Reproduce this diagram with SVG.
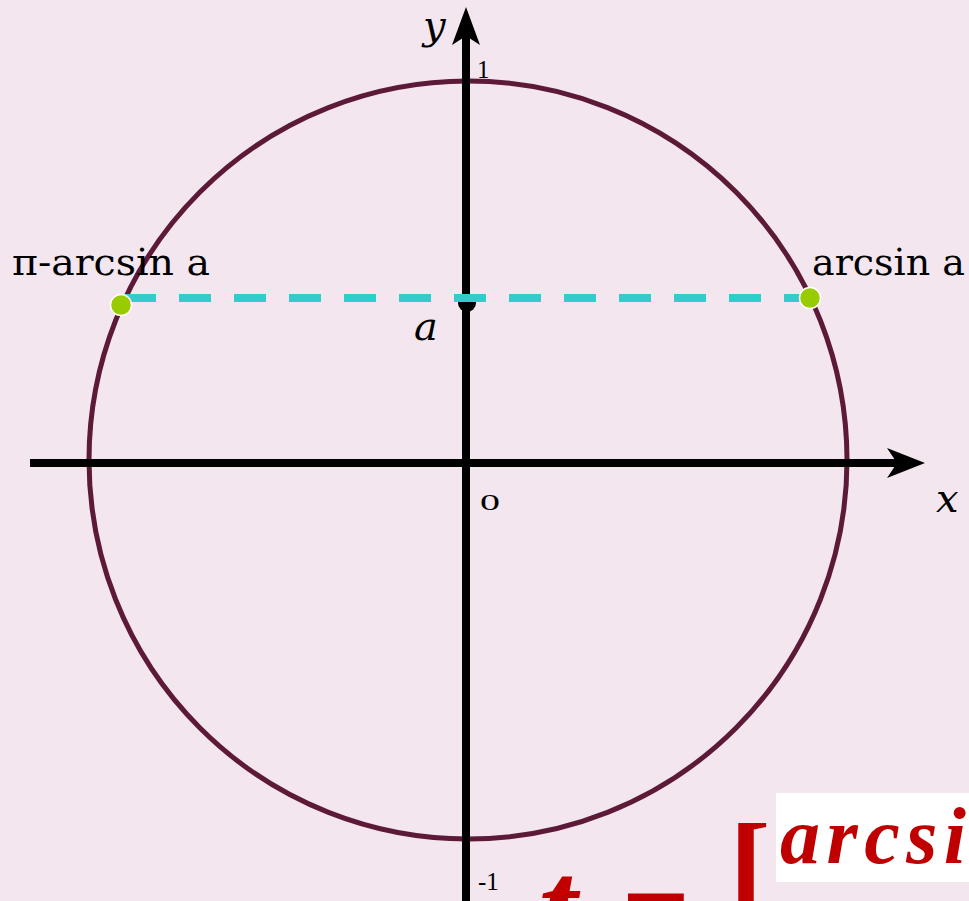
<svg xmlns="http://www.w3.org/2000/svg" width="969" height="901" viewBox="0 0 969 901">
<style>
.lbl{font-family:"DejaVu Serif","Liberation Serif",serif;fill:#000;}
.it{font-family:"DejaVu Serif","Liberation Serif",serif;font-style:italic;fill:#000;}
.num{font-family:"Liberation Serif",serif;fill:#000;}
.red{font-family:"Liberation Serif",serif;font-style:italic;font-weight:bold;fill:#c00000;}
.up{font-style:normal;}
.axis{stroke:#000;stroke-width:8;fill:none;}
.dot{fill:#99cc00;stroke:#ffffff;stroke-width:1.5;}
</style>
<rect x="0" y="0" width="969" height="901" fill="#f3e6ee"/>
<g id="circle">
<circle cx="468" cy="460" r="379" fill="none" stroke="#5c1a38" stroke-width="5"/>
</g>
<g id="connectors">
<line class="axis" x1="30" y1="463" x2="900" y2="463"/>
<polygon points="925,463 887,448 897,463 887,478" fill="#000"/>
<line class="axis" x1="466" y1="901" x2="466" y2="35"/>
<polygon points="466,7 452,45 466,36 480,45" fill="#000"/>
<circle cx="467" cy="303" r="9" fill="#000"/>
<line x1="122" y1="298" x2="810" y2="298" stroke="#33cccc" stroke-width="8" stroke-dasharray="32 23" stroke-dashoffset="-2"/>
</g>
<g id="point-left">
<circle class="dot" cx="121" cy="305" r="10.5"/>
<text class="lbl" x="12" y="275" font-size="38" textLength="198" lengthAdjust="spacingAndGlyphs">π-arcsin a</text>
</g>
<g id="point-right">
<circle class="dot" cx="810" cy="298" r="10.5"/>
<text class="lbl" x="812" y="275" font-size="38" textLength="153" lengthAdjust="spacingAndGlyphs">arcsin a</text>
</g>
<g id="labels">
<text class="it" x="423" y="39" font-size="40">y</text>
<text class="num" x="477" y="78" font-size="25">1</text>
<text class="it" x="414" y="340" font-size="40">a</text>
<text class="num" x="480" y="510" font-size="23" textLength="20" lengthAdjust="spacingAndGlyphs">0</text>
<text class="it" x="936" y="512" font-size="40">x</text>
<text class="num" x="478" y="890" font-size="25">-1</text>
</g>
<g id="formula">
<text class="red" x="538" y="955" font-size="140">t</text>
<text class="red up" x="622" y="950" font-size="120">=</text>
<text class="red up" x="729" y="910" font-size="125">[</text>
<rect x="776" y="793" width="200" height="89" fill="#ffffff"/>
<text class="red" x="780" y="863" font-size="80" textLength="186" lengthAdjust="spacing">arcsi</text>
</g>
</svg>
